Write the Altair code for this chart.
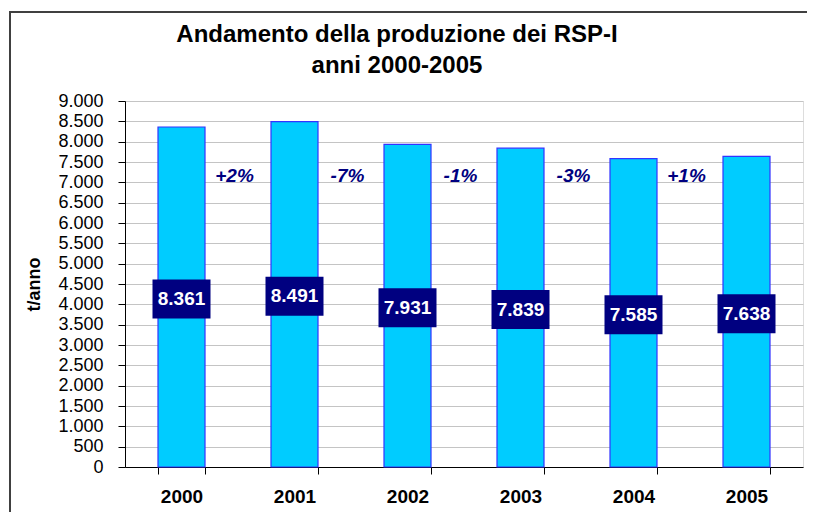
import altair as alt
import pandas as pd

years = ["2000", "2001", "2002", "2003", "2004", "2005"]
values = [8361, 8491, 7931, 7839, 7585, 7638]
change_years = ["2000", "2001", "2002", "2003", "2004"]
changes = ["+2%", "-7%", "-1%", "-3%", "+1%"]
change_label_level = 7150

title_lines = ["Andamento della produzione dei RSP-I", "anni 2000-2005"]
y_title = "t/anno"

df = pd.DataFrame({"anno": years, "valore": values})
dch = pd.DataFrame({"anno": change_years, "var": changes})

FONT = "Liberation Sans"
NAVY = "#000080"

x_scale = alt.Scale(domain=years, paddingInner=0.584, paddingOuter=0.292)
y_scale = alt.Scale(domain=[0, 9000], nice=False)

x_axis = alt.Axis(
    title=None,
    labelAngle=0,
    labelFont=FONT,
    labelFontSize=19,
    labelFontWeight="bold",
    labelColor="black",
    labelPadding=13,
    domainColor="black",
    domainWidth=1,
    tickColor="black",
    tickSize=7,
    tickBand="extent",
    grid=False,
)

y_axis = alt.Axis(
    title=y_title,
    titleFont=FONT,
    titleFontSize=18,
    titleFontWeight="bold",
    titleColor="black",
    titlePadding=14,
    values=list(range(0, 9001, 500)),
    labelExpr="replace(format(datum.value, ','), ',', '.')",
    labelFont=FONT,
    labelFontSize=18,
    labelColor="black",
    labelPadding=15,
    labelOverlap=False,
    labelFlush=False,
    domainColor="black",
    tickColor="black",
    tickSize=7,
    grid=True,
    gridColor="#c4c4c4",
    gridWidth=1,
)


def xe():
    return alt.X("anno:N", scale=x_scale, sort=years, axis=x_axis)


def ye(field):
    return alt.Y(field, scale=y_scale, axis=y_axis)


bars = alt.Chart(df).mark_bar(
    color="#00CCFF", stroke="#3333FF", strokeWidth=1.2
).encode(x=xe(), y=ye("valore:Q"))

box_path = "M-1,-0.672 L1,-0.672 L1,0.672 L-1,0.672 Z"
boxes = alt.Chart(df).transform_calculate(
    meta="datum.valore / 2"
).mark_point(
    shape=box_path, filled=True, color=NAVY, opacity=1, size=3364, yOffset=2
).encode(x=xe(), y=ye("meta:Q"))

box_text = alt.Chart(df).transform_calculate(
    meta="datum.valore / 2",
    lab="replace(format(datum.valore, ','), ',', '.')",
).mark_text(
    font=FONT, fontSize=19, fontWeight="bold", color="white",
    baseline="middle", align="center", dy=2,
).encode(x=xe(), y=ye("meta:Q"), text="lab:N")

change_text = alt.Chart(dch).mark_text(
    font=FONT, fontSize=19, fontWeight="bold", fontStyle="italic",
    color=NAVY, baseline="middle", align="center", dx=53,
).encode(
    x=xe(),
    y=alt.datum(change_label_level, scale=y_scale, axis=y_axis),
    text="var:N",
)

one = pd.DataFrame({"f": [0]})
frame_top = alt.Chart(one).mark_rule(color="#404040", strokeWidth=2).encode(
    x=alt.value(-116), x2=alt.value(1000), y=alt.value(-89)
)
frame_left = alt.Chart(one).mark_rule(color="#404040", strokeWidth=2).encode(
    x=alt.value(-115), y=alt.value(-90), y2=alt.value(700)
)

chart = alt.layer(
    bars, boxes, box_text, change_text, frame_top, frame_left
).properties(
    width=678,
    height=366,
    title=alt.TitleParams(
        text=title_lines,
        font=FONT,
        fontSize=24,
        fontWeight="bold",
        color="black",
        anchor="middle",
        dx=-67,
        dy=68,
        offset=0,
        lineHeight=31,
    ),
    autosize=alt.AutoSizeParams(type="none"),
    padding={"left": 117, "top": 93, "right": 4, "bottom": 45},
).configure_view(
    stroke="#888888", strokeWidth=1
).configure(background="white")

chart.save("out.html", embed_options={"renderer": "svg", "actions": False})
